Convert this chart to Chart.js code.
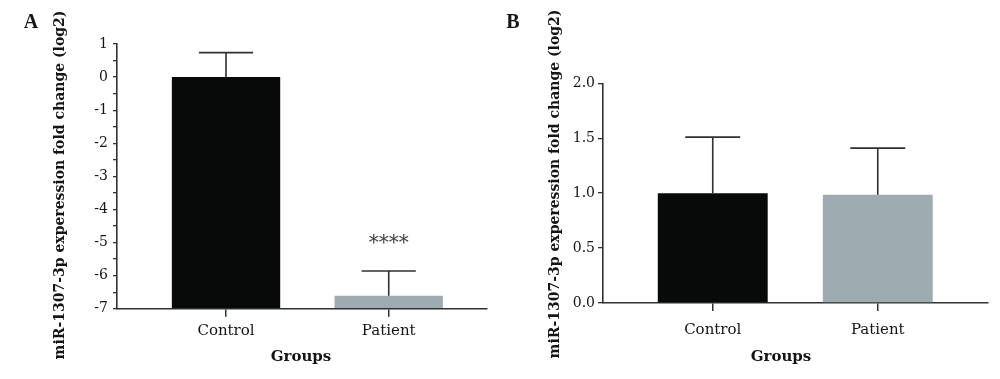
<!DOCTYPE html>
<html><head><meta charset="utf-8">
<script src="https://cdn.jsdelivr.net/npm/chart.js@4.4.1/dist/chart.umd.min.js"></script>
<style>
html,body{margin:0;padding:0;background:#fff;width:1000px;height:379px;overflow:hidden}
.panel{position:absolute;top:0;width:500px;height:379px}
#pa{left:0}#pb{left:500px}
canvas{display:block}
</style></head><body>
<div class="panel" id="pa"><canvas id="ca" width="500" height="379"></canvas></div>
<div class="panel" id="pb"><canvas id="cb" width="500" height="379"></canvas></div>
<script>
// ---- data ----
const categories = ['Control', 'Patient'];
const seriesA = [0.0, -6.61];
const errorA = [0.74, 0.75];
const signifA = ['', '****'];
const seriesB = [1.0, 0.985];
const errorB = [0.51, 0.425];
const signifB = ['', ''];
const yRangeA = [-7, 1];
const yRangeB = [0, 2];
const yTitle = 'miR-1307-3p experession fold change (log2)';
const xTitle = 'Groups';

const AXIS = '#2e3133';
const TEXT = '#151515';
const barColors = ['#070a09', '#9eabb0'];

const errorBarPlugin = {
  id: 'errorBars',
  afterDatasetsDraw(chart, args, o) {
    const ctx = chart.ctx, y = chart.scales.y;
    const meta = chart.getDatasetMeta(0);
    ctx.save();
    ctx.strokeStyle = AXIS; ctx.lineWidth = 1.6;
    meta.data.forEach((bar, i) => {
      const v = o.values[i], e = o.errors[i];
      const yBar = y.getPixelForValue(v), yTop = y.getPixelForValue(v + e);
      const half = bar.width * 0.25;
      ctx.beginPath();
      ctx.moveTo(bar.x, yBar); ctx.lineTo(bar.x, yTop);
      ctx.moveTo(bar.x - half, yTop); ctx.lineTo(bar.x + half, yTop);
      ctx.stroke();
      if (o.signif[i]) {
        ctx.fillStyle = '#444';
        ctx.font = '20px "DejaVu Serif"';
        ctx.textAlign = 'center'; ctx.textBaseline = 'alphabetic';
        ctx.fillText(o.signif[i], bar.x, yTop - 22);
      }
    });
    ctx.restore();
  }
};

const textPlugin = {
  id: 'panelText',
  afterDraw(chart, args, o) {
    const ctx = chart.ctx;
    ctx.save();
    ctx.fillStyle = TEXT;
    ctx.textAlign = 'center'; ctx.textBaseline = 'middle';
    ctx.font = 'bold 20px "Liberation Serif"';
    ctx.fillText(o.letter, o.letterX, o.letterY);
    ctx.font = 'bold 15px "DejaVu Serif"';
    ctx.fillText(xTitle, o.xTitleX, o.xTitleY);
    ctx.translate(o.yTitleX, o.yTitleY);
    ctx.rotate(-Math.PI / 2);
    ctx.font = 'bold 14px "DejaVu Serif"';
    ctx.fillText(yTitle, 0, 0);
    ctx.restore();
  }
};

function makeChart(id, cfg) {
  return new Chart(document.getElementById(id), {
    type: 'bar',
    data: {
      datasets: [{
        data: cfg.values.map((v, i) => ({ x: i, y: v })),
        backgroundColor: barColors,
        borderWidth: 0,
        base: cfg.base,
        categoryPercentage: 1,
        barPercentage: 0.666
      }]
    },
    options: {
      responsive: false,
      animation: false,
      devicePixelRatio: 1,
      layout: { padding: { left: 0, right: cfg.padRight, top: cfg.top, bottom: 0 } },
      plugins: {
        legend: { display: false },
        tooltip: { enabled: false },
        errorBars: { values: cfg.values, errors: cfg.errors, signif: cfg.signif },
        panelText: cfg.text
      },
      scales: {
        x: {
          type: 'linear',
          offset: false,
          min: cfg.xMin, max: cfg.xMax,
          afterBuildTicks: s => { s.ticks = categories.map((c, i) => ({ value: i })); },
          afterFit: s => { s.height = 379 - cfg.bottom; },
          ticks: {
            callback: v => categories[v] ?? '',
            font: { family: 'DejaVu Serif', size: 15 },
            color: TEXT, padding: cfg.xPad, autoSkip: false, maxRotation: 0
          },
          grid: { offset: false, drawOnChartArea: false, drawTicks: true, tickLength: 8, color: AXIS, lineWidth: 1.5 },
          border: { display: true, color: AXIS, width: 1.6 }
        },
        y: {
          min: cfg.yRange[0], max: cfg.yRange[1],
          afterFit: s => { s.width = cfg.left; },
          ticks: {
            stepSize: 0.5, autoSkip: false,
            callback: cfg.tickFmt,
            font: { family: 'DejaVu Serif', size: 14 },
            color: TEXT, padding: cfg.yPad
          },
          grid: { drawOnChartArea: false, drawTicks: true, tickLength: cfg.tickLen, color: AXIS, lineWidth: 1.3 },
          border: { display: true, color: AXIS, width: 1.6 }
        }
      }
    },
    plugins: [errorBarPlugin, textPlugin]
  });
}

makeChart('ca', {
  values: seriesA, errors: errorA, signif: signifA, base: yRangeA[0],
  yRange: yRangeA, xMin: -0.67, xMax: 1.604,
  left: 117, padRight: 13, top: 44, bottom: 308.7,
  xPad: 5, yPad: 5, tickLen: 4,
  tickFmt: v => Number.isInteger(v) ? String(v) : '',
  text: { letter: 'A', letterX: 31, letterY: 23, xTitleX: 301, xTitleY: 357, yTitleX: 60, yTitleY: 185 }
});

makeChart('cb', {
  values: seriesB, errors: errorB, signif: signifB, base: undefined,
  yRange: yRangeB, xMin: -0.665, xMax: 1.668,
  left: 103, padRight: 12, top: 83.3, bottom: 303,
  xPad: 10, yPad: 3, tickLen: 5,
  tickFmt: v => v.toFixed(1),
  text: { letter: 'B', letterX: 13, letterY: 23, xTitleX: 281, xTitleY: 357, yTitleX: 55, yTitleY: 184 }
});
</script>
</body></html>
